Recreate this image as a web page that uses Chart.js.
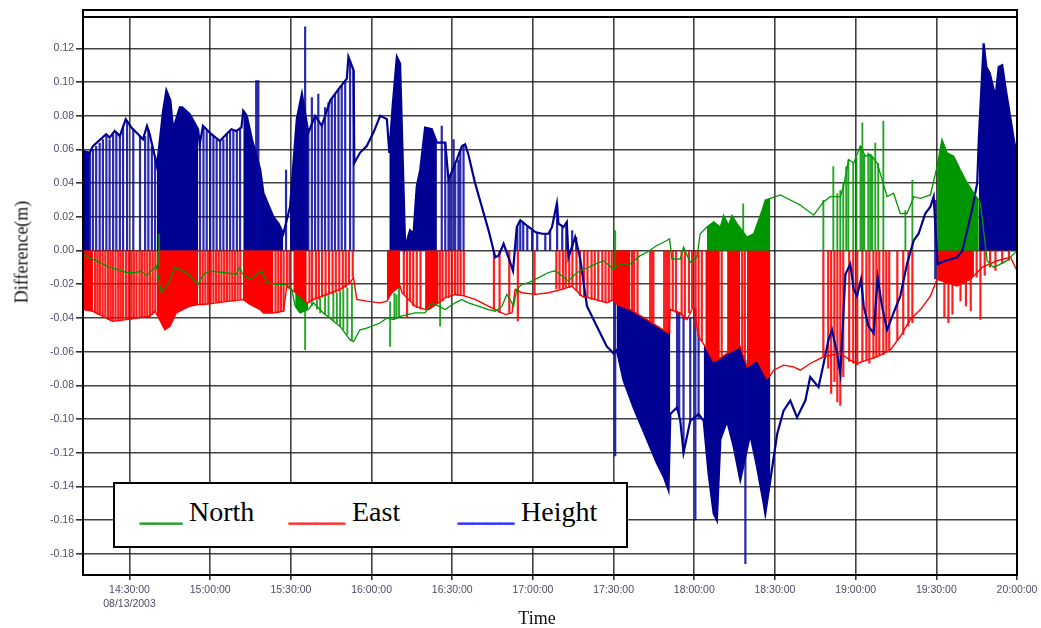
<!DOCTYPE html>
<html>
<head>
<meta charset="utf-8">
<title>Difference (m) vs Time</title>
<script src="https://cdn.jsdelivr.net/npm/chart.js@4/dist/chart.umd.min.js"></script>
<style>
  html, body { margin: 0; padding: 0; background: #fff; }
  #wrap { position: relative; width: 1041px; height: 628px; background: #fff; }
  #wrap canvas { position: absolute; left: 0; top: 0; }
  .axis-title { position: absolute; font-family: 'Liberation Serif', 'Times New Roman', serif; font-size: 18px; color: #111; white-space: nowrap; }
  #ytitle { left: 22px; top: 252px; transform: translate(-50%, -50%) rotate(-90deg); }
  #xtitle { left: 537px; top: 618px; transform: translate(-50%, -50%); }
  #legend { position: absolute; left: 113px; top: 482px; width: 515px; height: 66px; box-sizing: border-box; border: 2px solid #000; background: #fff; }
  .item { position: absolute; top: 14px; font-family: 'Liberation Serif', 'Times New Roman', serif; font-size: 28px; line-height: 28px; white-space: nowrap; color: #000; }
  .swatch { -webkit-text-stroke: 0.7px currentColor; }
</style>
</head>
<body>
<div id="wrap">
  <canvas id="chart" width="1041" height="628"></canvas>
  <div id="ytitle" class="axis-title">Difference(m)</div>
  <div id="xtitle" class="axis-title">Time</div>
  <div id="legend"></div>
</div>
<script>
// Time values are minutes after 14:00:00 on 08/13/2003.
const seriesNames = ['North', 'East', 'Height'];
const tickTimes = [30, 60, 90, 120, 150, 180, 210, 240, 270, 300, 330, 360];
const tickLabels = ['14:30:00', '15:00:00', '15:30:00', '16:00:00', '16:30:00', '17:00:00',
                    '17:30:00', '18:00:00', '18:30:00', '19:00:00', '19:30:00', '20:00:00'];
const dateLabel = '08/13/2003';
const yTicks = [-0.18, -0.16, -0.14, -0.12, -0.10, -0.08, -0.06, -0.04, -0.02, 0, 0.02, 0.04, 0.06, 0.08, 0.10, 0.12];

// Height difference trace
const heightTime = [12.7,15.2,16.4,21.3,22.6,24.5,26.4,28.6,30.7,33.2,35.0,36.5,37.5,39.4,40.2,42.5,43.7,45.2,46.2,48.7,
  49.6,52.4,55.5,56.1,57.3,59.8,63.6,66.0,67.9,69.7,71.6,72.3,73.6,75.5,78.6,79.8,83.5,85.4,87.2,89.7,
  92.2,94.1,96.5,99.0,101.5,104.6,108.3,110.8,111.4,113.3,113.6,115.7,118.2,120.7,123.2,125.7,126.6,127.9,129.4,130.6,
  132.5,134.3,135.6,136.8,138.1,139.9,142.4,144.3,147.4,148.6,149.9,151.7,153.6,154.8,156.0,158.5,161.0,163.5,166.0,167.2,
  169.1,170.9,172.6,174.0,175.3,178.4,180.9,183.4,185.8,187.1,188.9,189.5,191.4,192.6,193.2,195.7,197.6,200.1,203.8,207.5,
  210.0,211.2,213.7,217.4,222.4,226.1,228.6,230.4,231.1,233.6,234.8,236.0,238.5,241.6,243.5,245.3,247.2,248.4,249.7,252.2,
  254.6,257.1,260.8,263.3,265.8,266.4,268.3,270.8,273.2,275.7,278.2,281.3,283.1,286.2,288.1,289.9,291.2,293.1,294.3,296.2,
  298.0,299.3,300.5,302.0,303.0,304.8,306.7,308.2,309.8,311.7,314.1,316.6,319.1,321.6,323.4,325.9,327.8,329.0,330.5,333.4,
  337.7,339.7,341.5,343.4,345.2,345.8,347.6,348.6,349.9,350.8,352.0,353.2,354.5,355.7,356.9,358.8,360.0];
const heightValue = [0.059,0.058,0.062,0.069,0.067,0.071,0.068,0.078,0.073,0.069,0.066,0.074,0.069,0.056,0.050,0.083,0.095,0.089,0.072,0.085,
  0.085,0.081,0.072,0.063,0.074,0.070,0.065,0.069,0.072,0.071,0.073,0.083,0.080,0.066,0.048,0.034,0.020,0.016,0.010,0.026,
  0.078,0.093,0.070,0.080,0.074,0.089,0.097,0.102,0.115,0.107,0.052,0.058,0.062,0.070,0.080,0.078,0.058,0.087,0.115,0.111,
  0.002,0.012,0.010,0.038,0.048,0.073,0.072,0.064,0.064,0.042,0.047,0.054,0.062,0.063,0.057,0.040,0.026,0.012,-0.004,-0.003,
  0.004,-0.004,-0.012,0.014,0.018,0.014,0.011,0.010,0.010,0.014,0.028,0.016,0.014,0.017,-0.004,0.008,-0.005,-0.033,-0.045,-0.057,
  -0.061,-0.059,-0.077,-0.093,-0.112,-0.126,-0.134,-0.142,-0.097,-0.093,-0.101,-0.120,-0.101,-0.097,-0.101,-0.132,-0.156,-0.160,-0.112,-0.101,
  -0.116,-0.136,-0.109,-0.128,-0.150,-0.156,-0.136,-0.109,-0.095,-0.089,-0.099,-0.089,-0.075,-0.081,-0.067,-0.053,-0.047,-0.061,-0.073,-0.014,
  -0.008,-0.023,-0.027,-0.017,-0.033,-0.045,-0.049,-0.016,-0.033,-0.047,-0.037,-0.027,-0.008,0.006,0.010,0.022,0.026,0.032,-0.008,-0.006,
  -0.004,0.000,0.012,0.025,0.040,0.066,0.123,0.109,0.105,0.099,0.091,0.109,0.110,0.097,0.085,0.066,0.056];

// East difference trace
const eastTime = [12.7,16.4,20.1,23.9,28.8,32.5,37.5,39.4,40.2,41.2,43.1,45.0,47.4,52.4,55.5,57.3,62.3,67.3,72.2,74.8,
  78.6,79.8,83.5,87.2,88.5,90.9,93.4,95.9,98.4,103.3,108.3,112.0,113.3,114.5,118.2,123.2,125.7,127.5,130.6,131.3,
  136.2,139.9,141.2,144.9,147.4,151.1,154.8,158.5,162.3,166.0,169.7,172.2,173.4,175.9,180.9,185.8,190.8,194.5,198.2,203.2,
  207.5,210.0,211.2,216.2,222.4,227.4,230.4,231.1,234.8,237.3,239.7,241.6,244.1,247.2,249.5,252.2,257.1,259.6,263.3,267.0,
  268.3,269.5,273.2,276.9,279.4,283.1,288.1,294.3,298.0,300.5,304.2,307.9,312.9,316.6,320.3,324.1,327.8,330.3,337.7,342.7,
  344.0,347.0,352.6,357.6,360.0];
const eastValue = [-0.035,-0.036,-0.039,-0.042,-0.041,-0.040,-0.039,-0.036,-0.038,-0.041,-0.047,-0.045,-0.037,-0.033,-0.032,-0.032,-0.031,-0.030,-0.029,-0.032,
  -0.035,-0.037,-0.037,-0.036,-0.021,-0.024,-0.027,-0.031,-0.029,-0.026,-0.023,-0.019,-0.016,-0.029,-0.030,-0.031,-0.030,-0.025,-0.021,-0.025,
  -0.033,-0.035,-0.035,-0.031,-0.028,-0.026,-0.027,-0.029,-0.032,-0.035,-0.038,-0.037,-0.023,-0.025,-0.026,-0.025,-0.023,-0.021,-0.027,-0.029,
  -0.031,-0.029,-0.032,-0.035,-0.041,-0.046,-0.049,-0.035,-0.037,-0.041,-0.033,-0.051,-0.057,-0.066,-0.064,-0.061,-0.057,-0.069,-0.065,-0.076,
  -0.074,-0.071,-0.068,-0.069,-0.071,-0.067,-0.063,-0.061,-0.065,-0.067,-0.065,-0.063,-0.059,-0.051,-0.041,-0.035,-0.027,-0.017,-0.021,-0.017,
  -0.015,-0.010,-0.006,-0.004,-0.012];

// North difference trace
const northTime = [12.7,14.6,17.6,20.1,22.6,25.1,28.8,32.5,34.4,36.3,38.1,40.0,41.8,43.7,45.2,46.8,49.9,52.5,55.5,57.5,
  59.8,64.8,69.7,71.0,72.0,74.8,79.2,81.0,84.8,87.8,90.3,91.6,93.4,96.5,98.4,102.1,108.3,112.0,113.3,115.7,
  118.2,123.2,125.7,128.1,130.6,136.2,139.9,142.4,144.9,147.4,151.1,153.6,156.0,159.7,163.5,166.0,168.5,170.3,171.5,172.8,
  174.0,175.9,178.4,182.1,185.8,188.3,190.8,193.2,196.4,200.7,203.2,206.3,210.0,212.5,216.2,219.9,222.4,226.1,229.8,230.8,
  231.7,234.8,236.0,238.5,241.0,242.2,244.7,247.2,249.7,250.9,252.8,254.0,255.9,259.6,262.1,265.2,266.4,268.3,272.0,277.0,
  279.4,284.4,288.1,290.6,294.3,295.5,297.4,299.3,301.7,303.6,305.5,308.0,311.7,314.1,316.6,319.1,321.6,324.1,327.8,330.3,
  332.1,334.0,336.5,338.9,341.5,344.0,345.8,346.4,348.9,351.3,353.8,356.3,360.0];
const northValue = [-0.002,-0.004,-0.006,-0.008,-0.010,-0.011,-0.013,-0.013,-0.012,-0.015,-0.012,-0.009,-0.025,-0.021,-0.017,-0.010,-0.012,-0.015,-0.020,-0.014,
  -0.012,-0.013,-0.014,-0.010,-0.014,-0.017,-0.012,-0.019,-0.020,-0.020,-0.023,-0.033,-0.037,-0.035,-0.031,-0.037,-0.045,-0.053,-0.054,-0.047,
  -0.046,-0.043,-0.040,-0.041,-0.039,-0.037,-0.037,-0.031,-0.033,-0.035,-0.031,-0.029,-0.031,-0.033,-0.035,-0.036,-0.033,-0.026,-0.029,-0.033,
  -0.023,-0.020,-0.019,-0.016,-0.013,-0.012,-0.015,-0.018,-0.013,-0.010,-0.008,-0.006,-0.011,-0.008,-0.008,-0.003,-0.001,0.003,0.006,0.007,
  -0.005,-0.005,0.002,-0.007,-0.004,0.010,0.014,0.017,0.014,0.021,0.015,0.021,0.016,0.008,0.010,0.024,0.030,0.031,0.033,0.029,
  0.027,0.021,0.029,0.032,0.032,0.038,0.054,0.052,0.062,0.056,0.057,0.052,0.032,0.034,0.022,0.022,0.032,0.031,0.033,0.050,
  0.066,0.058,0.056,0.048,0.040,0.034,0.030,0.028,-0.006,-0.010,-0.008,-0.006,0.000];

// Time spans where the dropouts are so dense they read as a solid area
const heightFillSpans = [[12.7,15.2],[40.2,55.5],[72.3,87.2],[89.7,96.5],[126.6,144.3],[345.8,360.0]];
const heightOverEastSpans = [[211.2,231.1],[243.5,268.3]];
const eastFillSpans = [[12.7,16.4],[40.2,55.5],[72.2,83.5],[90.9,95.9],[125.7,130.6],[139.9,144.9],
  [210.0,216.2],[244.1,249.5],[252.2,257.1],[259.6,268.3],[330.3,344.0]];
const northFillSpans = [[244.7,268.3],[330.3,345.8]];
const northOverEastSpans = [[91.6,96.5]];

// Single dropout strokes: [time, from, to]
const heightSpikes = [
  [15.3,0,0.058],[16.4,0,0.060],[17.6,0,0.062],[18.9,0,0.064],[20.1,0,0.066],[21.4,0,0.068],[22.6,0,0.066],[23.9,0,0.069],
  [25.1,0,0.070],[26.4,0,0.068],[27.6,0,0.074],[29.1,0,0.077],[31.4,0,0.072],[33.9,0,0.068],[35.8,0,0.068],[37.0,0,0.072],
  [38.3,0,0.062],[39.5,0,0.056],
  [56.2,0,0.064],[57.5,0,0.073],[58.7,0,0.071],[60.0,0,0.069],[61.2,0,0.068],[62.4,0,0.066],[63.7,0,0.065],[64.9,0,0.066],
  [66.2,0,0.069],[67.4,0,0.071],[68.6,0,0.071],[69.9,0,0.071],[71.1,0,0.073],
  [77.1,0,0.101],[77.9,0,0.101],[88.2,0,0.048],[95.3,0,0.133],
  [96.5,0,0.070],[97.8,0,0.091],[99.0,0,0.080],[100.2,0,0.093],[101.5,0,0.074],[102.7,0,0.085],[104.0,0,0.088],[105.2,0,0.090],
  [106.4,0,0.093],[107.7,0,0.096],[108.9,0,0.098],[110.2,0,0.100],[112.0,0,0.112],[113.3,0,0.107],
  [146.1,0,0.074],[147.4,0,0.064],[148.6,0,0.042],[149.2,0,0.045],[150.5,0,0.066],[151.1,0,0.051],[152.3,0,0.054],[153.0,0,0.060],[154.2,0,0.062],
  [174.2,0,0.014],[175.3,0,0.018],[176.4,0,0.017],[177.9,0,0.015],[179.7,0,0.012],[181.6,0,0.011],[184.6,0,0.010],[186.4,0,0.012],
  [189.0,0,0.028],[190.9,0,0.015],[192.4,0,0.017],[194.6,0,0.012],[196.1,0,0.008],
  [210.6,-0.030,-0.122],[233.6,-0.036,-0.095],[234.4,-0.037,-0.098],[236.0,-0.039,-0.120],[238.5,-0.040,-0.101],
  [240.4,-0.034,-0.160],[241.6,-0.050,-0.100],[259.0,-0.065,-0.186],[329.6,0.030,-0.017]];

const eastSpikes = [
  [17.2,0,-0.037],[18.1,0,-0.038],[19.0,0,-0.038],[20.0,0,-0.039],[21.0,0,-0.040],[22.0,0,-0.041],[22.9,0,-0.042],[23.8,0,-0.042],
  [24.8,0,-0.042],[25.8,0,-0.042],[26.7,0,-0.041],[27.6,0,-0.041],[28.7,0,-0.041],[29.7,0,-0.041],[30.7,0,-0.041],[31.6,0,-0.040],
  [32.6,0,-0.040],[33.7,0,-0.040],[34.6,0,-0.040],[35.6,0,-0.040],[36.6,0,-0.039],[37.6,0,-0.039],[38.6,0,-0.038],[39.6,0,-0.037],
  [56.2,0,-0.032],[57.2,0,-0.032],[58.2,0,-0.032],[59.2,0,-0.032],[60.2,0,-0.031],[61.2,0,-0.031],[62.2,0,-0.031],[63.2,0,-0.031],
  [64.2,0,-0.031],[65.2,0,-0.030],[66.2,0,-0.030],[67.2,0,-0.030],[68.2,0,-0.030],[69.2,0,-0.030],[70.2,0,-0.029],[71.2,0,-0.029],
  [84.3,0,-0.037],[85.3,0,-0.037],[86.3,0,-0.036],[87.3,0,-0.036],[88.5,0,-0.022],[89.5,0,-0.023],
  [96.9,0,-0.031],[97.9,0,-0.030],[99.3,0,-0.029],[100.4,0,-0.029],[101.6,0,-0.028],[102.9,0,-0.027],[104.2,0,-0.026],
  [105.5,0,-0.026],[106.7,0,-0.025],[108.0,0,-0.024],[109.3,0,-0.023],[110.4,0,-0.022],[111.6,0,-0.020],[113.0,0,-0.016],
  [132.0,0,-0.026],[133.2,0,-0.040],[134.3,0,-0.030],[135.5,0,-0.033],[136.8,0,-0.034],[138.2,0,-0.035],
  [145.4,0,-0.031],[146.4,0,-0.030],[147.6,0,-0.028],[148.7,0,-0.028],[149.8,0,-0.027],[151.0,0,-0.026],[152.0,0,-0.027],
  [153.1,0,-0.027],[154.3,0,-0.027],
  [165.5,0,-0.035],[167.6,0,-0.037],[171.2,0,-0.037],[174.4,0,-0.042],[180.6,0,-0.026],
  [188.7,0,-0.023],[189.9,0,-0.023],[191.2,0,-0.023],[192.2,0,-0.022],[193.5,0,-0.022],[194.7,0,-0.021],[196.2,0,-0.024],
  [197.5,0,-0.027],[199.0,0,-0.028],[200.3,0,-0.028],[201.8,0,-0.029],[203.0,0,-0.029],[204.3,0,-0.030],[205.8,0,-0.030],
  [207.0,0,-0.031],[208.2,0,-0.031],[209.3,0,-0.030],
  [216.8,0,-0.036],[217.6,0,-0.036],[218.9,0,-0.038],[223.6,0,-0.042],[224.2,0,-0.043],[224.8,0,-0.043],[228.8,0,-0.048],
  [229.4,0,-0.048],[230.0,0,-0.049],[230.7,0,-0.049],
  [232.0,0,-0.036],[233.2,0,-0.037],[235.3,0,-0.039],[236.5,0,-0.041],[238.0,0,-0.037],[239.2,0,-0.034],[240.5,0,-0.045],
  [241.6,0,-0.051],[242.8,0,-0.054],
  [250.2,0,-0.063],[256.3,0,-0.058],[257.8,0,-0.060],[258.8,0,-0.065],
  [288.0,0,-0.063],[289.8,0,-0.070],[290.9,0,-0.085],[292.1,0,-0.078],[293.2,0,-0.090],[294.3,0,-0.092],[295.4,0,-0.075],
  [297.6,0,-0.066],[299.1,0,-0.067],[300.6,0,-0.068],[302.5,0,-0.066],[304.0,0,-0.065],[305.1,0,-0.067],[306.6,0,-0.064],
  [307.7,0,-0.063],[308.8,0,-0.062],[310.3,0,-0.062],[311.4,0,-0.060],[312.5,0,-0.059],[315.5,0,-0.053],[317.7,0,-0.050],
  [319.6,0,-0.045],[321.1,0,-0.043],
  [333.0,0,-0.040],[334.5,0,-0.043],[336.0,0,-0.038],[339.0,0,-0.030],[341.0,0,-0.033],[342.8,0,-0.036],[346.4,0,-0.041],
  [345.0,0,-0.016],[348.0,0,-0.015],[350.0,0,-0.010],[352.0,0,-0.012],[354.5,0,-0.008],[357.0,0,-0.006]];

const northSpikes = [
  [41.0,-0.010,0.010],[95.3,-0.030,-0.059],
  [97.8,-0.030,-0.033],[99.7,-0.029,-0.035],[100.9,-0.028,-0.037],[102.7,-0.027,-0.038],[104.0,-0.026,-0.040],[105.8,-0.025,-0.042],
  [107.1,-0.025,-0.043],[108.3,-0.024,-0.045],[109.5,-0.023,-0.047],[111.0,-0.022,-0.050],[112.7,-0.019,-0.053],
  [126.9,-0.030,-0.057],[128.5,-0.025,-0.041],[129.3,-0.026,-0.040],[130.2,-0.022,-0.040],[145.5,-0.030,-0.045],
  [210.6,-0.010,0.012],[258.2,0,0.028],
  [288.0,0,0.030],[291.7,0,0.050],[293.2,0,0.034],[294.3,0,0.036],[295.4,0,0.040],[296.5,0,0.050],[297.3,0,0.054],
  [299.1,0,0.052],[300.3,0,0.055],[301.8,0,0.062],[302.5,0,0.076],[303.2,0,0.057],[304.7,0,0.058],[305.5,0,0.057],
  [306.2,0,0.056],[307.3,0,0.064],[308.4,0,0.052],[310.3,0,0.077],[318.5,0,0.024],[321.1,0,0.042]];

// ---- chart construction ----
const NAVY = '#000092', RED = '#ff0000', GREEN = '#009600';

function toPoints(times, values) {
  return times.map((t, i) => ({ x: t, y: values[i] }));
}
function spanPoints(times, values, span) {
  return toPoints(times, values).filter(p => p.x >= span[0] && p.x <= span[1]);
}
function spikePoints(list) {
  const out = [];
  list.forEach(([t, a, b]) => { out.push({ x: t, y: a }, { x: t, y: b }, { x: t, y: null }); });
  return out;
}

const layers = [];   // bottom first
function fillLayer(points, color, fill) {
  layers.push({ data: points, fill: fill, backgroundColor: color, borderColor: 'transparent',
                borderWidth: 0, pointRadius: 0, tension: 0 });
}
function spikeLayer(list, color, width) {
  layers.push({ data: spikePoints(list), fill: false, borderColor: color, borderWidth: width,
                pointRadius: 0, spanGaps: false, tension: 0 });
}

heightFillSpans.forEach(s => fillLayer(spanPoints(heightTime, heightValue, s), NAVY, 'origin'));
heightOverEastSpans.forEach(s => fillLayer(spanPoints(heightTime, heightValue, s), NAVY, 'EAST'));
spikeLayer(heightSpikes, 'rgba(5,5,160,0.85)', 2.2);
eastFillSpans.forEach(s => fillLayer(spanPoints(eastTime, eastValue, s), RED, 'origin'));
spikeLayer(eastSpikes, 'rgba(255,0,0,0.88)', 2.2);
northFillSpans.forEach(s => fillLayer(spanPoints(northTime, northValue, s), GREEN, 'origin'));
northOverEastSpans.forEach(s => fillLayer(spanPoints(northTime, northValue, s), GREEN, 'EAST'));
spikeLayer(northSpikes, 'rgba(0,150,0,0.85)', 1.9);

layers.push({ label: seriesNames[2], data: toPoints(heightTime, heightValue), borderColor: NAVY, borderWidth: 2.2,
              pointRadius: 0, fill: false, tension: 0 });
layers.push({ label: seriesNames[1], id: 'east', data: toPoints(eastTime, eastValue), borderColor: RED, borderWidth: 1.4,
              pointRadius: 0, fill: false, tension: 0 });
layers.push({ label: seriesNames[0], data: toPoints(northTime, northValue), borderColor: GREEN, borderWidth: 1.3,
              pointRadius: 0, fill: false, tension: 0 });

const eastIndex = layers.findIndex(d => d.id === 'east');
layers.forEach((d, i) => {
  if (d.fill === 'EAST') d.fill = eastIndex;
  d.order = layers.length - i;   // earlier layers are painted underneath
});

const framePlugin = {
  id: 'frame',
  afterDraw(chart) {
    const { ctx, chartArea: a } = chart;
    ctx.save();
    ctx.strokeStyle = '#000';
    ctx.lineWidth = 2;
    ctx.strokeRect(a.left, a.top - 7, a.right - a.left, a.bottom - a.top + 7);
    ctx.beginPath();
    ctx.moveTo(a.left, a.top);
    ctx.lineTo(a.right, a.top);
    ctx.stroke();
    ctx.restore();
  }
};

const tickFont = { family: "'Liberation Sans', Arial, sans-serif", size: 10.5, lineHeight: 1.35 };
const gridStyle = { color: 'rgba(25,25,25,0.82)', lineWidth: 1.6, tickColor: '#333' };

new Chart(document.getElementById('chart'), {
  type: 'line',
  data: { datasets: layers },
  plugins: [framePlugin],
  options: {
    responsive: false,
    animation: false,
    layout: { padding: { top: 17, right: 24, bottom: 0, left: 0 } },
    plugins: { legend: { display: false }, tooltip: { enabled: false } },
    scales: {
      x: {
        type: 'linear', min: 12.7, max: 360,
        afterBuildTicks: s => { s.ticks = tickTimes.map(v => ({ value: v })); },
        afterFit: s => { s.height = 53; },
        grid: { ...gridStyle, tickLength: 5 },
        border: { display: true, color: '#000', width: 2 },
        ticks: {
          autoSkip: false, maxRotation: 0, padding: 3, color: '#4e4c66', font: tickFont,
          callback: v => { const i = tickTimes.indexOf(v); return i === 0 ? [tickLabels[i], dateLabel] : tickLabels[i]; }
        }
      },
      y: {
        type: 'linear', min: -0.1925, max: 0.1386,
        afterBuildTicks: s => { s.ticks = yTicks.map(v => ({ value: v })); },
        afterFit: s => { s.width = 83; },
        grid: { ...gridStyle, tickLength: 7 },
        border: { display: true, color: '#000', width: 2 },
        ticks: { padding: 2, color: '#4e4c66', font: tickFont, callback: v => v.toFixed(2) }
      }
    }
  }
});

// Legend box: coloured underscores followed by the series name
const legendEntries = [
  { name: seriesNames[0], swatch: '___', color: 'rgb(40,160,40)', left: 25 },
  { name: seriesNames[1], swatch: '____', color: 'rgb(255,50,50)', left: 174 },
  { name: seriesNames[2], swatch: '____', color: 'rgb(50,50,255)', left: 343 }
];
const legend = document.getElementById('legend');
legendEntries.forEach(e => {
  const item = document.createElement('div');
  item.className = 'item';
  item.style.left = e.left + 'px';
  const sw = document.createElement('span');
  sw.className = 'swatch';
  sw.style.color = e.color;
  sw.textContent = e.swatch;
  item.appendChild(sw);
  item.appendChild(document.createTextNode(' ' + e.name));
  legend.appendChild(item);
});
</script>
</body>
</html>
